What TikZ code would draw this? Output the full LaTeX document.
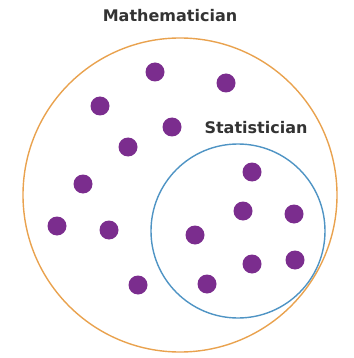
\documentclass[tikz,border=0pt]{standalone}
\usepackage{fontspec}
\setmainfont{DejaVu Sans}
\usetikzlibrary{positioning}
\definecolor{mcPurple}{HTML}{7B2D8E}
\definecolor{mcOrange}{HTML}{E9A24E}
\definecolor{mcBlue}{HTML}{4F94C4}
\tikzset{
  setring/.style={draw, circle, line width=1.4pt, inner sep=0pt},
  mathring/.style={setring, draw=mcOrange, minimum size=314pt},
  statring/.style={setring, draw=mcBlue, minimum size=174pt},
  member/.style={circle, fill=mcPurple, minimum size=19pt, inner sep=0pt},
  setlabel/.style={font=\fontsize{16}{19}\selectfont\bfseries, text=black!80, inner sep=0pt}
}
\begin{document}
\begin{tikzpicture}[x=1pt, y=-1pt]
  \useasboundingbox (0,0) rectangle (353,358);
  \node[mathring] (math) at (180,195) {};
  \node[statring] (stat) at (238,231) {};
  \node[setlabel] (mathlbl) at (170,16) {Mathematician};
  \node[setlabel] (statlbl) at (256,128) {Statistician};
  % members outside the statistician set
  \foreach \x/\y [count=\i] in {155/72, 226/83, 100/106, 172/127, 128/147,
      83/184, 57/226, 109/230, 138/285}
    \node[member] (m\i) at (\x,\y) {};
  % members inside the statistician set
  \foreach \x/\y [count=\i] in {252/172, 243/211, 294/214, 195/235,
      252/264, 295/260, 207/284}
    \node[member] (s\i) at (\x,\y) {};
\end{tikzpicture}
\end{document}
